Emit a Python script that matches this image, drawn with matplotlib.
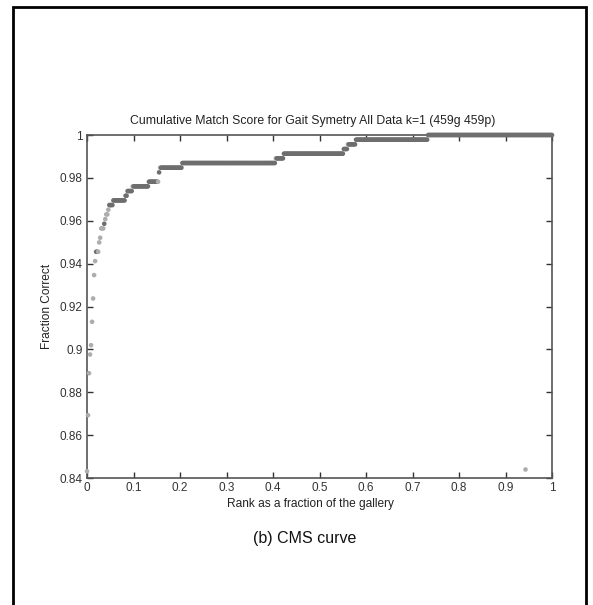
import numpy as np
import matplotlib.pyplot as plt
from matplotlib.patches import Rectangle
from matplotlib.ticker import FuncFormatter

# gallery / probe size
n_gallery = 459

# CMS as cumulative correct counts: rank index where each step starts and count from there on
step_start = [0, 1, 2, 3, 4, 5, 6, 7, 8, 9, 12, 13, 14, 17, 18, 19, 21, 22, 26, 38,
              40, 45, 61, 71, 72, 94, 186, 194, 253, 257, 265, 336]
step_count = [387, 399, 408, 412, 414, 419, 424, 429, 432, 434, 436, 437, 439, 440, 441, 442, 443, 444, 445, 446,
              447, 448, 449, 451, 452, 453, 454, 455, 456, 457, 458, 459]

# points printed in the lighter grey
light_idx = [0, 1, 2, 3, 4, 5, 6, 7, 8, 11, 12, 13, 14, 15, 16, 18, 19, 20, 21, 45, 70, 72, 186, 257]

# stray point near the bottom right
stray_x = [0.9426]
stray_y = [0.8442]

ranks = np.arange(n_gallery)
counts = np.zeros(n_gallery)
for s, c in zip(step_start, step_count):
    counts[s:] = c
frac_rank = ranks / (n_gallery - 1)
frac_correct = counts / n_gallery

plt.rcParams['font.family'] = ['Liberation Sans', 'DejaVu Sans']

fig = plt.figure(figsize=(5.93, 6.05), dpi=100)
ax = fig.add_axes([87 / 593, 1 - 478 / 605, 465 / 593, 343 / 605])

colors = np.array(['#6e6e6e'] * n_gallery, dtype=object)
colors[light_idx] = '#adadad'
ax.scatter(frac_rank, frac_correct, s=11, c=list(colors), linewidths=0, zorder=3, clip_on=False)
ax.scatter(stray_x, stray_y, s=11, c='#adadad', linewidths=0, zorder=3)

ax.set_xlim(0, 1)
ax.set_ylim(0.84, 1.0)
ax.set_xticks(np.arange(0, 1.01, 0.1))
ax.set_yticks(np.arange(0.84, 1.001, 0.02))
fmt = FuncFormatter(lambda v, p: '%g' % round(v, 2))
ax.xaxis.set_major_formatter(fmt)
ax.yaxis.set_major_formatter(fmt)
ax.tick_params(direction='in', length=4, width=1, colors='#333333', labelsize=8.5,
               top=True, right=True, pad=3)
for sp in ax.spines.values():
    sp.set_color('#555555')
    sp.set_linewidth(1.2)

ax.set_title('Cumulative Match Score for Gait Symetry All Data k=1 (459g 459p)',
             fontsize=8.8, color='#222222', pad=8, x=0.485)
ax.set_xlabel('Rank as a fraction of the gallery', fontsize=8.6, color='#222222')
ax.xaxis.set_label_coords(0.48, -0.058)
ax.set_ylabel('Fraction Correct', fontsize=8.6, color='#222222', labelpad=5)

fig.text(305 / 593, 1 - 539 / 605, '(b) CMS curve', ha='center', va='center', fontsize=11.5, color='#111111')

# outer frame of the figure panel
fig.patches.append(Rectangle((13 / 593, -0.05), (586 - 13) / 593, 1.05 - 7 / 605,
                             transform=fig.transFigure, fill=False, edgecolor='black', linewidth=2))

fig.savefig('out.png', dpi=100)
